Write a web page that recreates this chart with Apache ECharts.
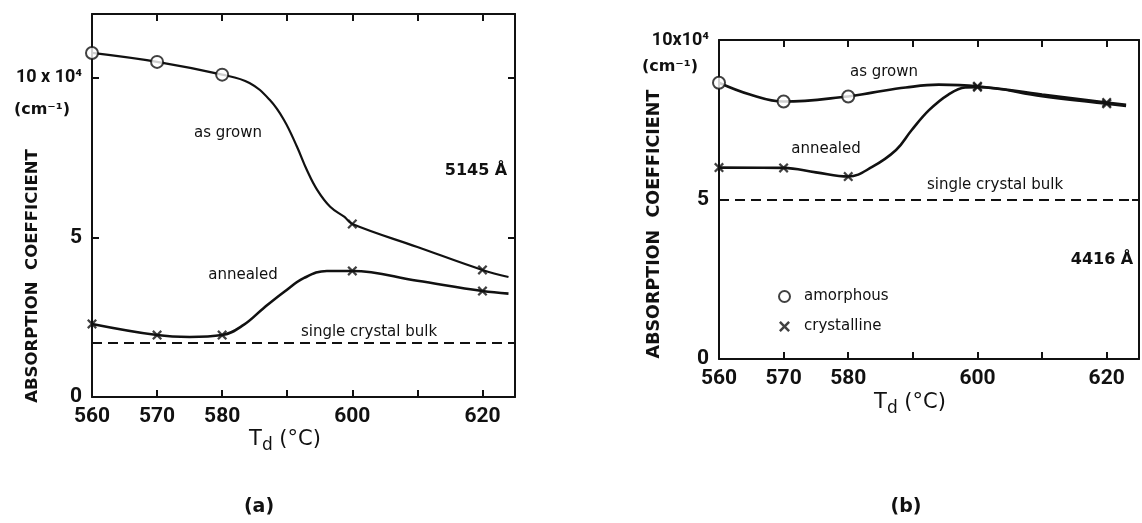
<!DOCTYPE html>
<html>
<head>
<meta charset="utf-8">
<script src="https://cdn.jsdelivr.net/npm/echarts@6/dist/echarts.min.js"></script>
<style>
  html, body { margin: 0; padding: 0; background: #fff; }
  #chart { width: 1142px; height: 523px; }
</style>
</head>
<body>
<div id="chart"></div>
<script>
  // measured deposition temperatures (°C)
  const measuredTemps = [560, 570, 580, 600, 620]
  // panel (a) 5145 Å, values in 10^4 cm^-1
  const grownA = [10.78, 10.5, 10.1, 5.42, 3.98]
  const annealedA = [2.29, 1.94, 1.94, 3.95, 3.32]
  const bulkA = 1.7
  // panel (b) 4416 Å
  const grownB = [8.66, 8.07, 8.23, 8.55, 8.04]
  const annealedB = [6.0, 5.99, 5.72, 8.52, 8.0]
  const bulkB = 5
  // which measured points were amorphous (o) vs crystalline (x)
  const grownPhase = ['amorphous', 'amorphous', 'amorphous', 'crystalline', 'crystalline']

  // drawn curves
  const curveGrownA_T = [560, 570, 580, 584.2, 587.3, 589.5, 591.5, 593, 594.6, 596.6, 598.8, 600, 610, 620, 624]
  const curveGrownA_V = [10.78, 10.5, 10.1, 9.84, 9.31, 8.68, 7.84, 7.12, 6.49, 5.96, 5.64, 5.42, 4.70, 3.98, 3.76]
  const curveAnnA_T = [560, 570, 575, 580, 583.3, 586.4, 589.5, 592.6, 596.1, 600, 610, 620, 624]
  const curveAnnA_V = [2.29, 1.94, 1.88, 1.94, 2.26, 2.79, 3.29, 3.73, 3.95, 3.95, 3.64, 3.32, 3.24]
  const curveGrownB_T = [560, 564.8, 570, 580, 583.7, 588.9, 594, 600, 610, 620, 623]
  const curveGrownB_V = [8.66, 8.29, 8.07, 8.23, 8.35, 8.51, 8.60, 8.55, 8.29, 8.04, 7.97]
  const curveAnnB_T = [560, 570, 575, 580, 583.7, 587.4, 589.8, 592.5, 595.5, 598.1, 600, 610, 620, 623]
  const curveAnnB_V = [6.0, 5.99, 5.85, 5.72, 6.02, 6.55, 7.17, 7.80, 8.29, 8.51, 8.52, 8.24, 8.0, 7.93]

  const xLabelled = [560, 570, 580, 600, 620]
  const INK = '#111'
  const xMark = 'path://M0,1.6L1.6,0L5,3.4L8.4,0L10,1.6L6.6,5L10,8.4L8.4,10L5,6.6L1.6,10L0,8.4L3.4,5Z'

  const zip = (xs, ys) => xs.map((x, i) => [x, ys[i]])
  const pick = (vals, phase) => measuredTemps.map((t, i) => [t, vals[i]]).filter((p, i) => phase === null || grownPhase[i] === phase)

  let chart = echarts.init(document.getElementById('chart'))

  const tickLabel = {fontFamily: 'Roboto', fontWeight: 'bold', fontSize: 21, color: INK}
  const frameLine = {show: true, onZero: false, lineStyle: {color: INK, width: 2}}
  const tickIn = {show: true, inside: true, length: 7, lineStyle: {color: INK, width: 2}}

  function xAxes(grid) {
    return [
      {
        gridIndex: grid, type: 'value', position: 'bottom', min: 560, max: 625, interval: 10,
        axisLine: frameLine, axisTick: tickIn, splitLine: {show: false},
        axisLabel: Object.assign({margin: 9, formatter: v => xLabelled.includes(v) ? String(v) : ''}, tickLabel)
      },
      {
        gridIndex: grid, type: 'value', position: 'top', min: 560, max: 625, interval: 10,
        axisLine: frameLine, axisTick: tickIn, splitLine: {show: false}, axisLabel: {show: false}
      }
    ]
  }
  function yAxes(grid, max, topText) {
    return [
      {
        gridIndex: grid, type: 'value', position: 'left', min: 0, max: max, interval: 5,
        axisLine: frameLine, axisTick: tickIn, splitLine: {show: false},
        axisLabel: Object.assign({
          margin: 10,
          formatter: v => v === 10 ? '{u|' + topText + '}' : (v % 5 === 0 ? String(v) : ''),
          rich: {u: {fontFamily: 'Roboto', fontWeight: 'bold', fontSize: 18, color: INK}}
        }, tickLabel)
      },
      {
        gridIndex: grid, type: 'value', position: 'right', min: 0, max: max, interval: 5,
        axisLine: frameLine, axisTick: tickIn, splitLine: {show: false}, axisLabel: {show: false}
      }
    ]
  }

  function curve(name, xi, yi, data, width) {
    return {
      type: 'line', name: name, xAxisIndex: xi, yAxisIndex: yi,
      data: data, smooth: 0.4, symbol: 'none',
      lineStyle: {color: INK, width: width || 2.2}, z: 3, silent: true
    }
  }
  function bulk(xi, yi, value) {
    return {
      type: 'line', xAxisIndex: xi, yAxisIndex: yi, data: [], silent: true,
      markLine: {
        silent: true, symbol: 'none', label: {show: false},
        lineStyle: {color: INK, width: 2, type: [10, 6]},
        data: [{yAxis: value}]
      }
    }
  }
  function marks(name, xi, yi, data, circle) {
    return {
      type: 'scatter', name: name, xAxisIndex: xi, yAxisIndex: yi, data: data,
      symbol: circle ? 'circle' : xMark, symbolSize: circle ? 12 : 10,
      itemStyle: circle ? {color: '#fff', borderColor: INK, borderWidth: 2} : {color: INK},
      z: 5, silent: true
    }
  }

  const note = (x, y, text, extra) => ({
    type: 'text', x: x, y: y,
    style: Object.assign({text: text, fill: INK, font: '15px "DejaVu Sans"', align: 'center', verticalAlign: 'middle'}, extra || {})
  })
  const vTitle = (x, y, size) => ({
    type: 'text', x: x, y: y, rotation: Math.PI / 2,
    style: {text: 'ABSORPTION  COEFFICIENT', fill: INK, font: 'bold ' + size + 'px "DejaVu Sans"', align: 'center', verticalAlign: 'middle'}
  })
  const tTitle = (x, y) => ({
    type: 'text', x: x, y: y,
    style: {
      text: '{t|T}{s|d}  {t|(°C)}', align: 'center', verticalAlign: 'middle',
      rich: {
        t: {fontFamily: 'DejaVu Sans', fontSize: 21, fill: INK},
        s: {fontFamily: 'DejaVu Sans', fontSize: 17, fill: INK, padding: [12, 0, 0, 0]}
      }
    }
  })

  chart.setOption({
    animation: false,
    backgroundColor: '#fff',
    grid: [
      {left: 92, top: 14, width: 423, height: 383},
      {left: 719, top: 40, width: 420, height: 319}
    ],
    xAxis: [...xAxes(0), ...xAxes(1)],
    yAxis: [...yAxes(0, 12, '10 x 10⁴'), ...yAxes(1, 10, '10x10⁴')],
    legend: {
      data: [{name: 'amorphous', icon: 'circle'}, {name: 'crystalline', icon: xMark}],
      orient: 'vertical', left: 773, top: 284, itemWidth: 11, itemHeight: 11, itemGap: 15,
      selectedMode: false,
      textStyle: {fontFamily: 'DejaVu Sans', fontSize: 15, color: INK, padding: [0, 0, 0, 9]}
    },
    series: [
      curve('grownA', 0, 0, zip(curveGrownA_T, curveGrownA_V)),
      curve('annealedA', 0, 0, zip(curveAnnA_T, curveAnnA_V), 2.6),
      bulk(0, 0, bulkA),
      marks('amorphous', 0, 0, pick(grownA, 'amorphous'), true),
      marks('crystalline', 0, 0, pick(grownA, 'crystalline').concat(pick(annealedA, null)), false),

      curve('grownB', 2, 2, zip(curveGrownB_T, curveGrownB_V), 2.6),
      curve('annealedB', 2, 2, zip(curveAnnB_T, curveAnnB_V), 2.6),
      bulk(2, 2, bulkB),
      marks('amorphous', 2, 2, pick(grownB, 'amorphous'), true),
      marks('crystalline', 2, 2, pick(grownB, 'crystalline').concat(pick(annealedB, null)), false)
    ],
    graphic: [
      note(42, 110, '(cm⁻¹)', {font: 'bold 16px "DejaVu Sans"'}),
      note(670, 67, '(cm⁻¹)', {font: 'bold 16px "DejaVu Sans"'}),
      vTitle(33, 276, 16.5),
      vTitle(654, 224, 17.5),
      tTitle(285, 440),
      tTitle(910, 403),
      note(228, 133, 'as grown'),
      note(243, 275, 'annealed'),
      note(369, 332, 'single crystal bulk'),
      note(476, 171, '5145 Å', {font: 'bold 16px "DejaVu Sans"'}),
      note(884, 72, 'as grown'),
      note(826, 149, 'annealed'),
      note(995, 185, 'single crystal bulk'),
      note(1102, 260, '4416 Å', {font: 'bold 16px "DejaVu Sans"'}),
      note(259, 507, '(a)', {font: 'bold 19px "DejaVu Sans"'}),
      note(906, 507, '(b)', {font: 'bold 19px "DejaVu Sans"'})
    ]
  })
</script>
</body>
</html>
